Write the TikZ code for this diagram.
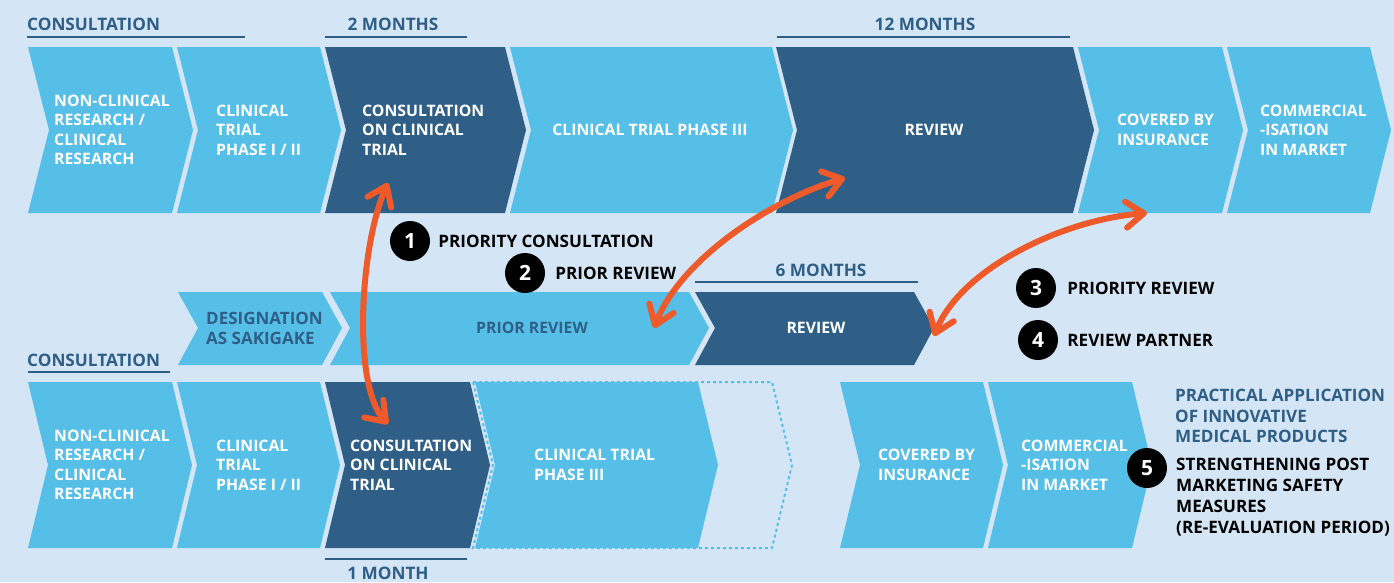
\documentclass[tikz,border=0pt]{standalone}
\usepackage{fontspec}
\setmainfont{Open Sans}
\usetikzlibrary{arrows.meta}
\usetikzlibrary{positioning}
\tikzset{>={Straight Barb[length=18pt,width=26pt,round]}}
\definecolor{bgblue}{HTML}{D4E6F5}
\definecolor{skyblue}{HTML}{55BFE7}
\definecolor{navy}{HTML}{2F5F87}
\definecolor{flame}{HTML}{EE5A29}
\tikzset{
  steptext/.style={font=\bfseries\fontsize{15.8}{19.5}\selectfont, text=white, align=left, inner sep=0pt, anchor=west},
  timetext/.style={font=\bfseries\fontsize{17.2}{20}\selectfont, text=navy, inner sep=0pt},
  timeline/.style={navy, line width=2.5pt},
  numdot/.style={circle, fill=black, minimum size=40pt, inner sep=0pt, text=white, font=\bfseries\fontsize{21}{21}\selectfont},
  keytext/.style={font=\bfseries\fontsize{17.1}{20.8}\selectfont, align=left, inner sep=0pt},
  link/.style={<->, flame, line width=6pt, line cap=round}
}

\begin{document}
\begin{tikzpicture}[x=1pt, y=-1pt]
      \useasboundingbox (0,0) rectangle (1394,582);
      \fill[bgblue] (0,0) rectangle (1394,582);
      % chevrons
      \foreach \xa/\xb/\col in {28/172/skyblue, 177/320/skyblue, 325/505/navy, 510/772/skyblue, 776/1073/navy, 1078/1222/skyblue, 1227/1370/skyblue}
        \fill[\col] (\xa,47) -- (\xb,47) -- (\xb+21,130) -- (\xb,213) -- (\xa,213) -- (\xa+21,130) -- cycle;
      \foreach \xa/\xb/\col in {178/322/skyblue, 330/689/skyblue, 695/914/navy}
        \fill[\col] (\xa,292) -- (\xb,292) -- (\xb+20,328) -- (\xb,365) -- (\xa,365) -- (\xa+20,328) -- cycle;
      \foreach \xa/\xb/\col in {28/172/skyblue, 177/320/skyblue, 325/470/navy, 475/698/skyblue, 840/983/skyblue, 988/1132/skyblue}
        \fill[\col] (\xa,382) -- (\xb,382) -- (\xb+20,465) -- (\xb,548) -- (\xa,548) -- (\xa+20,465) -- cycle;
      \draw[skyblue, line width=2pt, dash pattern=on 3pt off 3pt] (473,382) -- (772,382) -- (792,465) -- (772,548) -- (473,548) -- (493,465) -- cycle;
      % top row
      \node[steptext] (t1) at (54,130) {NON-CLINICAL\\RESEARCH /\\CLINICAL\\RESEARCH};
      \node[steptext] (t2) at (216,130) {CLINICAL\\TRIAL\\PHASE I / II};
      \node[steptext] (t3) at (362,130) {CONSULTATION\\ON CLINICAL\\TRIAL};
      \node[steptext, anchor=center] (t4) at (650,130) {CLINICAL TRIAL PHASE III};
      \node[steptext, anchor=center] (t5) at (934,130) {REVIEW};
      \node[steptext] (t6) at (1117,130) {COVERED BY\\INSURANCE};
      \node[steptext] (t7) at (1260,130) {COMMERCIAL\\-ISATION\\IN MARKET};
      % middle row
      \node[steptext, text=navy, font=\bfseries\fontsize{17}{20}\selectfont] (m1) at (206,328) {DESIGNATION\\AS SAKIGAKE};
      \node[steptext, text=navy, anchor=center] (m2) at (532,328) {PRIOR REVIEW};
      \node[steptext, anchor=center] (m3) at (816,328) {REVIEW};
      % bottom row
      \node[steptext] (b1) at (54,465) {NON-CLINICAL\\RESEARCH /\\CLINICAL\\RESEARCH};
      \node[steptext] (b2) at (216,465) {CLINICAL\\TRIAL\\PHASE I / II};
      \node[steptext] (b3) at (350,465) {CONSULTATION\\ON CLINICAL\\TRIAL};
      \node[steptext] (b4) at (534,465) {CLINICAL TRIAL\\PHASE III};
      \node[steptext] (b5) at (878,465) {COVERED BY\\INSURANCE};
      \node[steptext] (b6) at (1021,465) {COMMERCIAL\\-ISATION\\IN MARKET};
      % time spans
      \node[timetext, anchor=west] (c1) at (27,24) {CONSULTATION};
      \draw[timeline] (27,37) -- (245,37);
      \node[timetext] (c2) at (393,24) {2 MONTHS};
      \draw[timeline] (325,37) -- (467,37);
      \node[timetext] (c3) at (925,24) {12 MONTHS};
      \draw[timeline] (777,37) -- (1070,37);
      \node[timetext] (c4) at (821,270) {6 MONTHS};
      \draw[timeline] (695,282) -- (918,282);
      \node[timetext, anchor=west] (c5) at (27,360) {CONSULTATION};
      \draw[timeline] (28,372) -- (170,372);
      \node[timetext] (c6) at (388,573) {1 MONTH};
      \draw[timeline] (325,559) -- (467,559);
      % key
      \node[numdot] (n1) at (410,241) {1};
      \node[keytext, right=8pt of n1] (k1) {PRIORITY CONSULTATION};
      \node[numdot] (n2) at (525,273) {2};
      \node[keytext, right=10pt of n2] (k2) {PRIOR REVIEW};
      \node[numdot] (n3) at (1036,288) {3};
      \node[keytext, right=11pt of n3] (k3) {PRIORITY REVIEW};
      \node[numdot] (n4) at (1038,340) {4};
      \node[keytext, right=9pt of n4] (k4) {REVIEW PARTNER};
      \node[keytext, text=navy, anchor=west] (p1) at (1175,416) {PRACTICAL APPLICATION\\OF INNOVATIVE\\MEDICAL PRODUCTS};
      \node[numdot] (n5) at (1147,468) {5};
      \node[keytext, anchor=west] (k5) at (1176,497) {STRENGTHENING POST\\MARKETING SAFETY\\MEASURES\\(RE-EVALUATION PERIOD)};
      % arrows
      \coordinate (e1a) at (388,183);
      \coordinate (e1b) at (388,424);
      \coordinate (e2a) at (845,178);
      \coordinate (e2b) at (654,328);
      \coordinate (e3a) at (1147,213);
      \coordinate (e3b) at (934,336);
      \draw[link] (e1a) .. controls (360,245) and (352,385) .. (e1b);
      \draw[link] (e2a) .. controls (770,200) and (680,260) .. (e2b);
      \draw[link] (e3a) .. controls (1060,220) and (960,270) .. (e3b);
    \end{tikzpicture}
\end{document}
